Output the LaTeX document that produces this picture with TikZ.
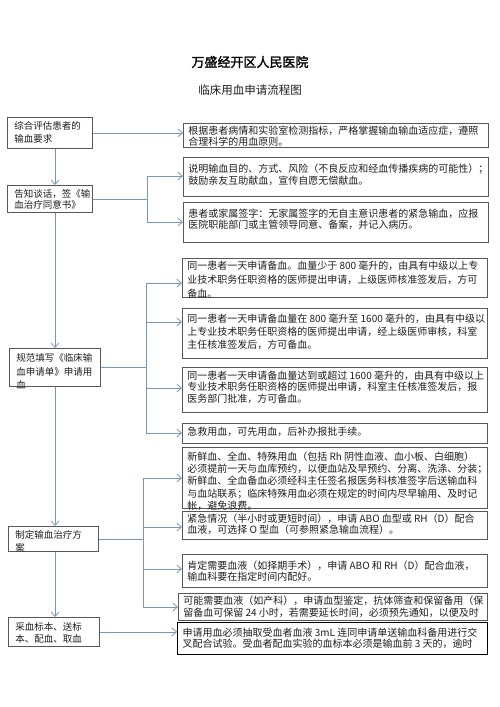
\documentclass[tikz,border=0pt]{standalone}
\usepackage{fontspec}
\setmainfont{Noto Sans CJK SC}[AutoFakeBold=1.6]
\usepackage{tikz}
\usetikzlibrary{arrows.meta, positioning, calc}
\definecolor{cLine}{RGB}{115,152,196}
\definecolor{cFrame}{RGB}{88,88,88}
\definecolor{cText}{RGB}{30,30,30}
% box text: width, height, top gap, line skip, lines
\newcommand{\celltext}[5]{\parbox[c][#2][t]{#1}{\raggedright\setlength{\baselineskip}{#4}\vspace*{#3}#5}}
\newcommand{\numgap}{\kern.22em}
\tikzset{
	leftbox/.style ={rectangle, draw=cFrame, line width=0.8pt, anchor=north west, inner xsep=7pt, inner ysep=0pt, font=\fontsize{9.5}{12}\selectfont, text=cText},
	rightbox/.style={rectangle, draw=cFrame, line width=0.8pt, anchor=north west, inner xsep=5pt, inner ysep=0pt, font=\fontsize{10}{12}\selectfont, text=cText},
	link/.style    ={draw=cLine, line width=0.8pt},
	flowarrow/.style={link, -{Straight Barb[length=1.6mm, width=2.8mm]}},
}

\begin{document}
\begin{tikzpicture}[x=1pt, y=-1pt]
	\useasboundingbox (0,0) rectangle (500,707);
	\node (title) at (250,62) {\fontsize{13}{13}\selectfont\bfseries 万盛经开区人民医院};
	\node[text=cText] (subtitle) at (250,90) {\fontsize{11.5}{12}\selectfont 临床用血申请流程图};
	% left column
	\node[leftbox] (assess) at (7,117) {\celltext{71pt}{31pt}{3.7pt}{13pt}{综合评估患者的\\输血要求}};
	\node[leftbox] (inform) at (7,185) {\celltext{71pt}{27pt}{3.7pt}{11pt}{告知谈话，签《输\\血治疗同意书》}};
	\node[leftbox] (apply)  at (9,348) {\celltext{77pt}{38pt}{5.5pt}{13.5pt}{规范填写《临床输\\血申请单》申请用\\血}};
	\node[leftbox] (plan)   at (8,526) {\celltext{76pt}{25pt}{4.5pt}{13pt}{制定输血治疗方\\案}};
	\node[leftbox] (sample) at (8,617) {\celltext{77pt}{29pt}{5.5pt}{11.5pt}{采血标本、送标\\本、配血、取血}};
	% right column
	\node[rightbox] (principle) at (183,123) {\celltext{295pt}{24pt}{2.3pt}{11pt}{根据患者病情和实验室检测指标，严格掌握输血输血适应症，遵照\\合理科学的用血原则。}};
	\node[rightbox] (explain)   at (183,157) {\celltext{295pt}{39pt}{6.3pt}{12pt}{说明输血目的、方式、风险（不良反应和经血传播疾病的可能性）；\\鼓励亲友互助献血，宣传自愿无偿献血。}};
	\node[rightbox] (consent)   at (183,202) {\celltext{295pt}{40pt}{6.3pt}{11.5pt}{患者或家属签字：无家属签字的无自主意识患者的紧急输血，应报\\医院职能部门或主管领导同意、备案，并记入病历。}};
	\node[rightbox] (less800)   at (182,258) {\celltext{295pt}{39pt}{2.3pt}{14pt}{同一患者一天申请备血。血量少于\numgap{}800\numgap{}毫升的，由具有中级以上专\\业技术职务任职资格的医师提出申请，上级医师核准签发后，方可\\备血。}};
	\node[rightbox] (mid1600)   at (182,308) {\celltext{295pt}{50pt}{5.3pt}{13pt}{同一患者一天申请备血量在\numgap{}800\numgap{}毫升至\numgap{}1600\numgap{}毫升的，由具有中级以\\上专业技术职务任职资格的医师提出申请，经上级医师审核，科室\\主任核准签发后，方可备血。}};
	\node[rightbox] (over1600)  at (182,367) {\celltext{295pt}{45pt}{3.3pt}{11.7pt}{同一患者一天申请备血量达到或超过\numgap{}1600\numgap{}毫升的，由具有中级以上\\专业技术职务任职资格的医师提出申请，科室主任核准签发后，报\\医务部门批准，方可备血。}};
	\node[rightbox] (rescue)    at (182,423) {\celltext{295pt}{20pt}{3.3pt}{12pt}{急救用血，可先用血，后补办报批手续。}};
	\node[rightbox] (fresh)     at (182,447) {\celltext{295pt}{61pt}{4.3pt}{12.3pt}{新鲜血、全血、特殊用血（包括\numgap{}Rh\numgap{}阴性血液、血小板、白细胞）\\必须提前一天与血库预约，以便血站及早预约、分离、洗涤、分装；\\新鲜血、全血备血必须经科主任签名报医务科核准签字后送输血科\\与血站联系；临床特殊用血必须在规定的时间内尽早输用、及时记\\帐，避免浪费。}};
	\node[rightbox] (urgent)    at (182,511) {\celltext{295pt}{28pt}{2.3pt}{11.5pt}{紧急情况（半小时或更短时间），申请\numgap{}ABO\numgap{}血型或\numgap{}RH（D）配合\\血液，可选择\numgap{}O\numgap{}型血（可参照紧急输血流程）。}};
	\node[rightbox] (elective)  at (182,554) {\celltext{295pt}{33pt}{6.3pt}{11.5pt}{肯定需要血液（如择期手术），申请\numgap{}ABO\numgap{}和\numgap{}RH（D）配合血液，\\输血科要在指定时间内配好。}};
	\node[rightbox] (possible)  at (178,593) {\celltext{299pt}{27pt}{2.3pt}{12pt}{可能需要血液（如产科），申请血型鉴定，抗体筛查和保留备用（保\\留备血可保留\numgap{}24\numgap{}小时，若需要延长时间，必须预先通知，以便及时}};
	\node[rightbox, draw=black, line width=1.3pt] (crossmatch) at (177,622) {\celltext{300pt}{32pt}{5.3pt}{11.5pt}{申请用血必须抽取受血者血液\numgap{}3mL\numgap{}连同申请单送输血科备用进行交\\叉配合试验。受血者配血实验的血标本必须是输血前\numgap{}3\numgap{}天的，逾时}};
	% main line down the left column
	\coordinate (spine) at (55,0);
	\draw[flowarrow] (assess.south -| spine) -- (inform.north -| spine);
	\draw[flowarrow] (inform.south -| spine) -- (apply.north -| spine);
	\draw[flowarrow] (apply.south -| spine) -- (plan.north -| spine);
	\draw[flowarrow] (plan.south -| spine) -- (sample.north -| spine);
	% single links
	\draw[flowarrow] (assess.east) -- (assess.east -| principle.west);
	\draw[flowarrow] (sample.east) -- (sample.east -| crossmatch.west);
	% branches of inform
	\coordinate (b2a) at (147,176);
	\coordinate (b2b) at (147,222);
	\draw[link] (inform.east) -- (inform.east -| b2a);
	\draw[link] (b2a) -- (b2b);
	\draw[flowarrow] (b2a) -- (b2a -| explain.west);
	\draw[flowarrow] (b2b) -- (b2b -| consent.west);
	% branches of apply
	\coordinate (b3a) at (146,283);
	\coordinate (b3b) at (146,322);
	\coordinate (b3c) at (146,388);
	\coordinate (b3d) at (146,433);
	\draw[link] (apply.east) -- (apply.east -| b3a);
	\draw[link] (b3a) -- (b3d);
	\draw[flowarrow] (b3a) -- (b3a -| less800.west);
	\draw[flowarrow] (b3b) -- (b3b -| mid1600.west);
	\draw[flowarrow] (b3c) -- (b3c -| over1600.west);
	\draw[flowarrow] (b3d) -- (b3d -| rescue.west);
	% branches of plan
	\coordinate (b4a) at (143,478);
	\coordinate (b4b) at (143,527);
	\coordinate (b4c) at (143,569);
	\coordinate (b4d) at (143,607);
	\draw[link] (plan.east) -- (plan.east -| b4a);
	\draw[link] (b4a) -- (b4d);
	\draw[flowarrow] (b4a) -- (b4a -| fresh.west);
	\draw[flowarrow] (b4b) -- (b4b -| urgent.west);
	\draw[flowarrow] (b4c) -- (b4c -| elective.west);
	\draw[flowarrow] (b4d) -- (b4d -| possible.west);
\end{tikzpicture}
\end{document}
